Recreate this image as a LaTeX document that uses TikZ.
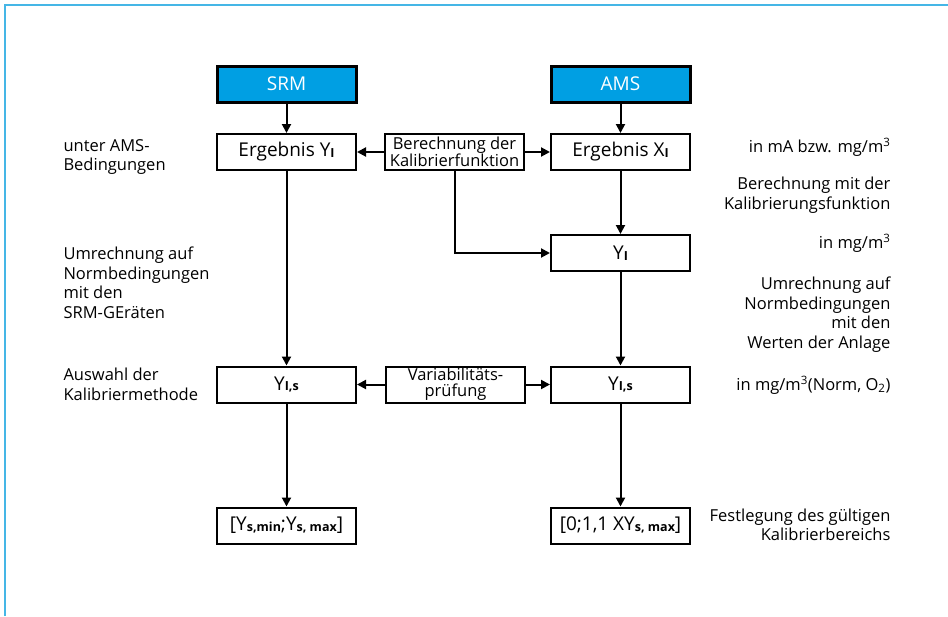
\documentclass[tikz,border=0pt]{standalone}
\usepackage{fontspec}
\setmainfont{Open Sans}
\usetikzlibrary{arrows.meta}
\definecolor{kopfblau}{HTML}{009FE3}
\definecolor{rahmenblau}{HTML}{45B6E6}
\newcommand{\idx}[1]{\raisebox{-0.5pt}{\fontsize{12.5}{12}\selectfont\bfseries #1}}

\begin{document}
\begin{tikzpicture}[
        x=1pt, y=-1pt, % Pixelraster, y nach unten
        box/.style = {draw, line width=2pt, fill=white, minimum width=139pt, minimum height=36pt, inner sep=1pt, align=center, font=\fontsize{19}{20}\selectfont}, % Ergebniskasten
        kopf/.style = {box, fill=kopfblau, line width=3pt, text=white}, % SRM / AMS
        mitte/.style = {box, font=\fontsize{16.5}{16}\selectfont}, % Kasten in der Mitte
        pfeil/.style = {draw, line width=2pt, -{Triangle[length=9pt, width=9pt]}},
        links/.style = {anchor=west, align=left, font=\fontsize{16.5}{19.5}\selectfont},
        rechts/.style = {anchor=east, align=right, font=\fontsize{16.5}{19.5}\selectfont},
    ]
    \useasboundingbox (0,0) rectangle (948,616);
    \draw[rahmenblau, line width=2pt] (5,616) -- (5,5) -- (948,5);

    % Kaesten
    \node[kopf] (srm) at (286.5,84) {SRM};
    \node[kopf] (ams) at (620.5,84) {AMS};
    \node[box] (ergY) at (286.5,152) {Ergebnis Y\idx{I}};
    \node[mitte] (ber) at (454.5,152) {Berechnung der\\Kalibrierfunktion};
    \node[box] (ergX) at (620.5,152) {Ergebnis X\idx{I}};
    \node[box] (yi) at (620.5,253) {Y\idx{I}};
    \node[box] (yisL) at (286.5,384.5) {Y\idx{I,s}};
    \node[mitte] (var) at (455.5,384.5) {Variabilitäts-\\prüfung};
    \node[box] (yisR) at (620.5,384.5) {Y\idx{I,s}};
    \node[box] (berL) at (286.5,525.5) {[Y\idx{s,min};Y\idx{s, max}]};
    \node[box] (berR) at (620.5,525.5) {[0;1,1 XY\idx{s, max}]};

    % Pfeile
    \draw[pfeil] (srm) -- (ergY);
    \draw[pfeil] (ams) -- (ergX);
    \draw[pfeil] (ber) -- (ergY);
    \draw[pfeil] (ber) -- (ergX);
    \draw[pfeil] (ber.south) |- (yi.west);
    \draw[pfeil] (ergX) -- (yi);
    \draw[pfeil] (ergY) -- (yisL);
    \draw[pfeil] (yi) -- (yisR);
    \draw[pfeil] (var) -- (yisL);
    \draw[pfeil] (var) -- (yisR);
    \draw[pfeil] (yisL) -- (berL);
    \draw[pfeil] (yisR) -- (berR);

    % Beschriftungen links
    \node[links] (tU) at (60,157) {unter AMS-\\Bedingungen};
    \node[links] (tN) at (60,283) {Umrechnung auf\\Normbedingungen\\mit den\\SRM-GEräten};
    \node[links] (tA) at (60,384.5) {Auswahl der\\Kalibriermethode};

    % Beschriftungen rechts
    \node[rechts] (tmA) at (894,147) {in mA bzw. mg/m\textsuperscript{3}};
    \node[rechts] (tK) at (894,195) {Berechnung mit der\\Kalibrierungsfunktion};
    \node[rechts] (tmg) at (894,243) {in mg/m\textsuperscript{3}};
    \node[rechts] (tW) at (894,314.5) {Umrechnung auf\\Normbedingungen\\mit den\\Werten der Anlage};
    \node[rechts] (tO) at (894,385) {in mg/m\textsuperscript{3}(Norm, O\textsubscript{2})};
    \node[rechts] (tF) at (894,525) {Festlegung des gültigen\\Kalibrierbereichs};
\end{tikzpicture}
\end{document}
